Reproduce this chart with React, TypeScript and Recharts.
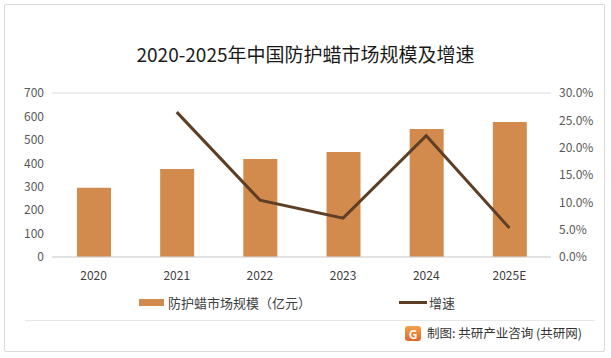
import React from "react";
import {
  ComposedChart,
  Bar,
  Line,
  XAxis,
  YAxis,
  CartesianGrid,
} from "recharts";

const categories = ["2020", "2021", "2022", "2023", "2024", "2025E"];
const marketSize = [296, 376, 418, 448, 546, 576];
const growth: (number | null)[] = [null, 0.265, 0.104, 0.071, 0.222, 0.053];
const leftTicks = [0, 100, 200, 300, 400, 500, 600, 700];
const rightTicks = [0, 0.05, 0.1, 0.15, 0.2, 0.25, 0.3];

const title = "2020-2025年中国防护蜡市场规模及增速";
const barName = "防护蜡市场规模（亿元）";
const lineName = "增速";
const footer = "制图: 共研产业咨询 (共研网)";

const BAR_COLOR = "#D38B4D";
const LINE_COLOR = "#5E3F26";
const FONT = "'Noto Sans CJK SC', 'Noto Sans', sans-serif";

const data = categories.map((c, i) => ({
  name: c,
  size: marketSize[i],
  growth: growth[i],
}));

const LegendBlock = () => (
  <div
    style={{
      position: "absolute",
      left: 0,
      top: 293,
      width: 611,
      height: 20,
      fontFamily: FONT,
      fontSize: 13,
      color: "#404040",
    }}
  >
    <div
      style={{
        position: "absolute",
        left: 139,
        top: 6,
        width: 25,
        height: 7,
        background: BAR_COLOR,
      }}
    />
    <div style={{ position: "absolute", left: 168, top: 0, lineHeight: "20px" }}>
      {barName}
    </div>
    <div
      style={{
        position: "absolute",
        left: 399,
        top: 8,
        width: 28,
        height: 3,
        background: LINE_COLOR,
      }}
    />
    <div style={{ position: "absolute", left: 429, top: 0, lineHeight: "20px" }}>
      {lineName}
    </div>
  </div>
);

export default function App() {
  return (
    <div
      style={{
        position: "absolute",
        left: 0,
        top: 0,
        width: 611,
        height: 358,
        background: "#fff",
        overflow: "hidden",
      }}
    >
      <div
        style={{
          position: "absolute",
          left: 4,
          top: 4,
          width: 599,
          height: 346,
          border: "1.5px solid #d9d9d9",
          borderRadius: 2,
        }}
      />
      <div
        style={{
          position: "absolute",
          left: 0,
          top: 41,
          width: 611,
          textAlign: "center",
          fontFamily: FONT,
          fontSize: 19,
          color: "#1a1a1a",
          lineHeight: "26px",
        }}
      >
        {title}
      </div>
      <div style={{ position: "absolute", left: 0, top: 0 }}>
        <ComposedChart
          width={611}
          height={358}
          data={data}
          margin={{ top: 93, right: 0, bottom: 0, left: 0 }}
        >
          <CartesianGrid vertical={false} stroke="#d9d9d9" strokeWidth={1} />
          <XAxis
            dataKey="name"
            height={101}
            tickLine={false}
            axisLine={{ stroke: "#d9d9d9" }}
            tick={{ fill: "#404040", fontSize: 12, fontFamily: FONT }}
            tickMargin={8}
            interval={0}
          />
          <YAxis
            yAxisId="left"
            width={52}
            domain={[0, 700]}
            ticks={leftTicks}
            interval={0}
            tickLine={false}
            axisLine={false}
            tick={{ fill: "#595959", fontSize: 12, fontFamily: FONT }}
            tickMargin={2}
          />
          <YAxis
            yAxisId="right"
            orientation="right"
            width={60}
            domain={[0, 0.3]}
            ticks={rightTicks}
            interval={0}
            tickFormatter={(v: number) => (v * 100).toFixed(1) + "%"}
            tickLine={false}
            axisLine={false}
            tick={{ fill: "#595959", fontSize: 12, fontFamily: FONT }}
            tickMargin={2}
          />
          <Bar
            yAxisId="left"
            dataKey="size"
            fill={BAR_COLOR}
            barSize={34}
            isAnimationActive={false}
          />
          <Line
            yAxisId="right"
            dataKey="growth"
            stroke={LINE_COLOR}
            strokeWidth={3}
            dot={false}
            activeDot={false}
            connectNulls={false}
            isAnimationActive={false}
          />
        </ComposedChart>
      </div>
      <LegendBlock />
      <div
        style={{
          position: "absolute",
          left: 25,
          top: 320,
          width: 570,
          height: 1,
          background: "#e8e8e8",
        }}
      />
      <div
        style={{
          position: "absolute",
          left: 405,
          top: 326,
          width: 16,
          height: 15,
          borderRadius: 3,
          background: "linear-gradient(#f5a04a, #e2672a)",
          color: "#fff",
          fontFamily: FONT,
          fontSize: 12,
          fontWeight: 700,
          lineHeight: "15px",
          textAlign: "center",
        }}
      >
        G
      </div>
      <div
        style={{
          position: "absolute",
          left: 427,
          top: 324,
          fontFamily: FONT,
          fontSize: 12.5,
          color: "#333",
          lineHeight: "18px",
          whiteSpace: "nowrap",
        }}
      >
        {footer}
      </div>
    </div>
  );
}
